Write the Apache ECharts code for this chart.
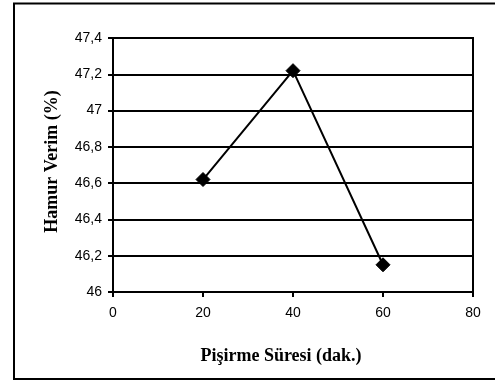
<!DOCTYPE html>
<html>
<head>
<meta charset="utf-8">
<script src="https://cdn.jsdelivr.net/npm/echarts@6/dist/echarts.min.js"></script>
<style>
html,body{margin:0;padding:0;background:#fff;}
#chart{width:495px;height:381px;}
</style>
</head>
<body>
<div id="chart"></div>
<script>
const cookingTime = [20, 40, 60];
const doughYield = [46.62, 47.22, 46.15];
const xTitle = 'Pişirme Süresi (dak.)';
const yTitle = 'Hamur Verim (%)';

const chart = echarts.init(document.getElementById('chart'), null, {renderer: 'canvas'});
const points = cookingTime.map((t, i) => [t, doughYield[i]]);
const serif = '"Liberation Serif", "Times New Roman", serif';
const sans = '"Liberation Sans", Arial, sans-serif';

chart.setOption({
  backgroundColor: '#ffffff',
  animation: false,
  graphic: [{
    type: 'rect',
    shape: {x: 14, y: 3.5, width: 500, height: 375.5},
    style: {fill: 'none', stroke: '#000', lineWidth: 2},
    silent: true
  }],
  grid: {
    left: 113, top: 38, right: 22, bottom: 89,
    show: true, borderColor: '#000', borderWidth: 2, backgroundColor: 'transparent'
  },
  xAxis: {
    type: 'value',
    min: 0, max: 80, interval: 20,
    name: xTitle,
    nameLocation: 'middle',
    nameGap: 55,
    nameTextStyle: {fontFamily: serif, fontWeight: 'bold', fontSize: 18, color: '#000', padding: [0, 24, 0, 0]},
    axisLine: {show: true, lineStyle: {color: '#000', width: 2}},
    axisTick: {show: true, inside: false, length: 5, lineStyle: {color: '#000', width: 2}},
    axisLabel: {color: '#000', fontFamily: sans, fontSize: 14, margin: 14},
    splitLine: {show: false}
  },
  yAxis: {
    type: 'value',
    min: 46, max: 47.4, interval: 0.2,
    name: yTitle,
    nameLocation: 'middle',
    nameGap: 52,
    nameRotate: 90,
    nameTextStyle: {fontFamily: serif, fontWeight: 'bold', fontSize: 18, color: '#000', padding: [0, 0, 0, 7]},
    axisLine: {show: true, lineStyle: {color: '#000', width: 2}},
    axisTick: {show: true, inside: false, length: 5, lineStyle: {color: '#000', width: 2}},
    axisLabel: {
      color: '#000', fontFamily: sans, fontSize: 14, margin: 11,
      formatter: v => String(Math.round(v * 10) / 10).replace('.', ',')
    },
    splitLine: {show: true, lineStyle: {color: '#000', width: 2}}
  },
  series: [{
    type: 'line',
    data: points,
    symbol: 'diamond',
    symbolSize: 14,
    showAllSymbol: true,
    lineStyle: {color: '#000', width: 2},
    itemStyle: {color: '#000', borderColor: '#000'},
    emphasis: {disabled: true}
  }]
});
</script>
</body>
</html>
